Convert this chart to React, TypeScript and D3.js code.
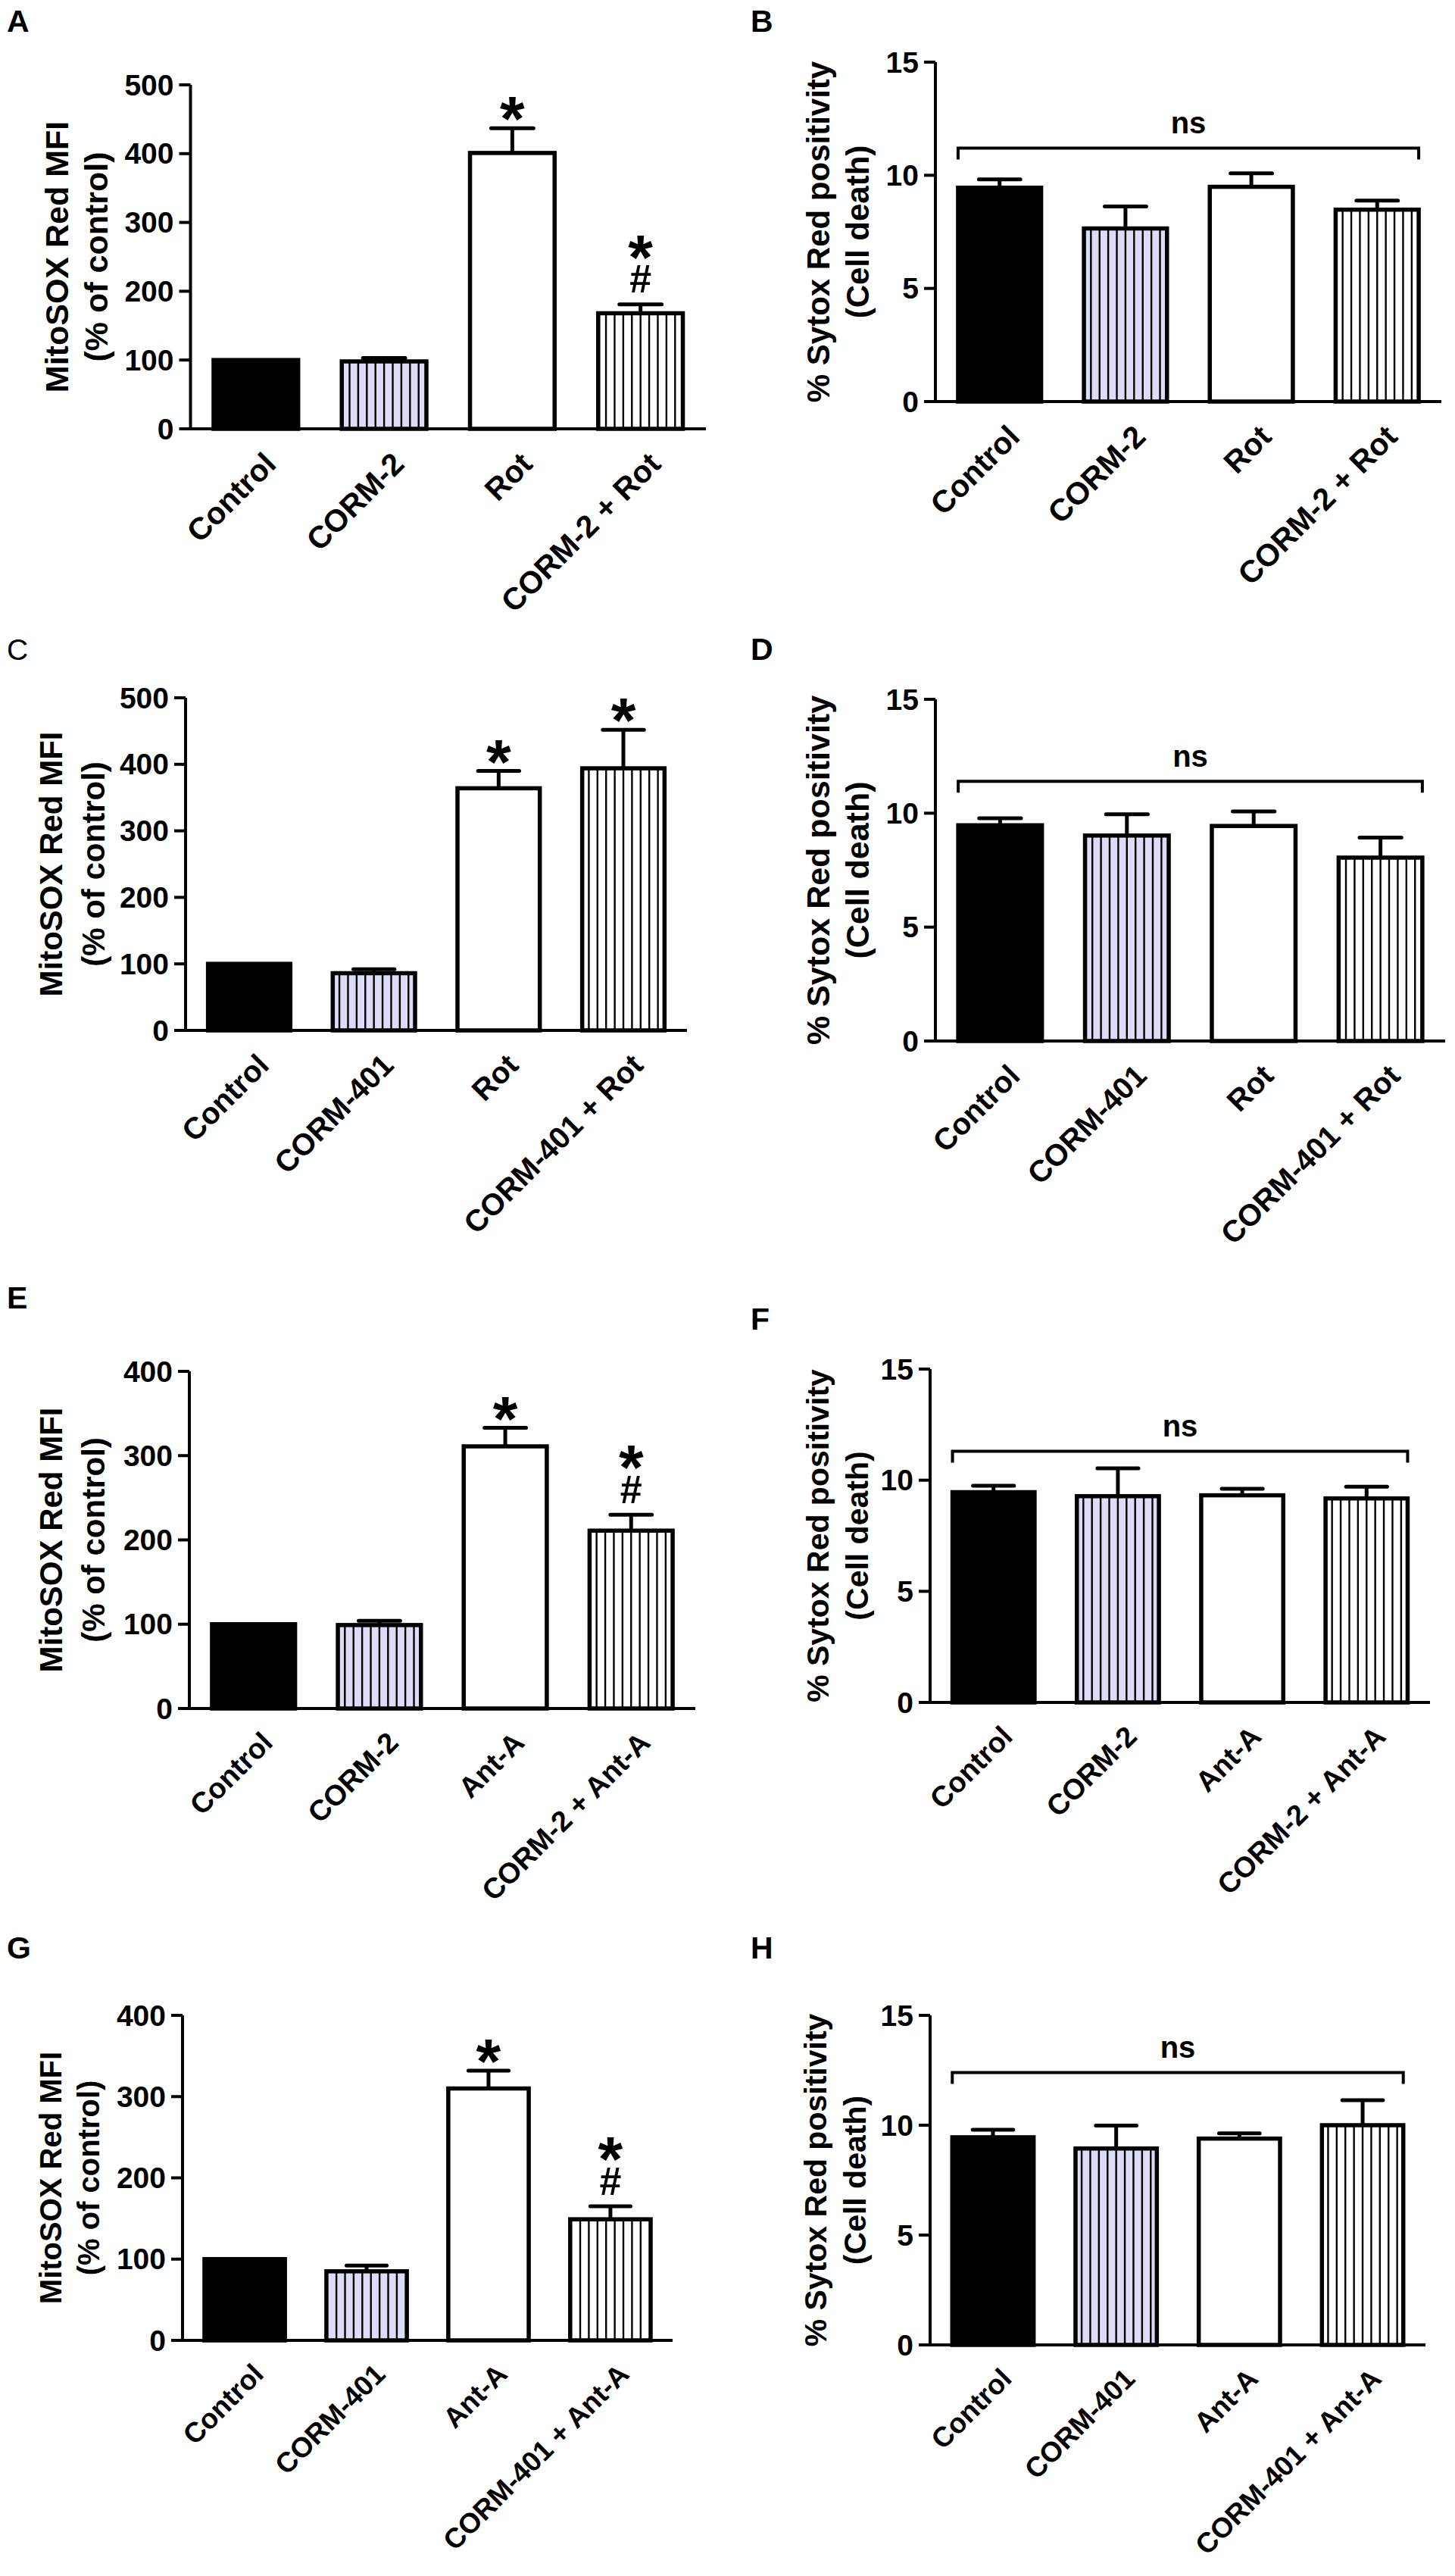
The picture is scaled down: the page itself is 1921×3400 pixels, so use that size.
import React from "react";
import * as d3 from "d3";

// ---------- data ----------
const catsRot2 = ["Control", "CORM-2", "Rot", "CORM-2 + Rot"];
const catsRot401 = ["Control", "CORM-401", "Rot", "CORM-401 + Rot"];
const catsAnt2 = ["Control", "CORM-2", "Ant-A", "CORM-2 + Ant-A"];
const catsAnt401 = ["Control", "CORM-401", "Ant-A", "CORM-401 + Ant-A"];

const ticksMito500 = [0, 100, 200, 300, 400, 500];
const ticksMito400 = [0, 100, 200, 300, 400];
const ticksSytox = [0, 5, 10, 15];

const mitoTitle = ["MitoSOX Red MFI", "(% of control)"];
const sytoxTitle = ["% Sytox Red positivity", "(Cell death)"];

// Panel A
const meanA = [100, 98, 401, 168];
const semA = [0, 5, 36, 13];
const sigA = ["", "", "*", "*#"];
// Panel B
const meanB = [9.45, 7.65, 9.49, 8.48];
const semB = [0.37, 0.97, 0.6, 0.4];
const nsB = 11.2;
// Panel C
const meanC = [100, 86, 364, 394];
const semC = [0, 6, 26, 58];
const sigC = ["", "", "*", "*"];
// Panel D
const meanD = [9.47, 9.02, 9.44, 8.05];
const semD = [0.31, 0.93, 0.64, 0.88];
const nsD = 11.4;
// Panel E
const meanE = [100, 99, 311, 211];
const semE = [0, 5, 22, 19];
const sigE = ["", "", "*", "*#"];
// Panel F
const meanF = [9.46, 9.28, 9.32, 9.18];
const semF = [0.29, 1.25, 0.29, 0.53];
const nsF = 11.3;
// Panel G
const meanG = [100, 85, 310, 149];
const semG = [0, 7, 22, 16];
const sigG = ["", "", "*", "*#"];
// Panel H
const meanH = [9.45, 8.94, 9.39, 10.0];
const semH = [0.34, 1.04, 0.24, 1.14];
const nsH = 12.4;

// ---------- styles ----------
const FONT = "'Liberation Sans', Arial, Helvetica, sans-serif";
const barFills = ["#000000", "#dcdcf6", "#ffffff", "#ffffff"];
const barStriped = [false, true, false, true];
const STROKE = 5.5;
const AXIS_W = 4;

type Layout = {
  letter: string; lx: number; ly: number; lbold: boolean;
  axisX: number; xEnd: number; yTop: number; y0: number;
  lab1: number; lab2: number; titleSize: number; xlabSize: number;
};

type PanelProps = {
  layout: Layout;
  cats: string[];
  mean: number[];
  sem: number[];
  ticks: number[];
  title: string[];
  sig?: string[];
  ns?: number;
};

function Panel({ layout, cats, mean, sem, ticks, title, sig, ns }: PanelProps) {
  const L = layout;
  const yMax = ticks[ticks.length - 1];
  const y = d3.scaleLinear().domain([0, yMax]).range([L.y0, L.yTop]);
  const x = d3.scaleBand<string>().domain(cats).range([L.axisX, L.xEnd]).paddingInner(0.34).paddingOuter(0.18);
  const bw = x.bandwidth();
  const yMid = (L.y0 + L.yTop) / 2;
  const capW = bw * 0.5;
  const stripeGap = 11.4;
  const STAR = 84;
  const HASH = 52;

  return (
    <g>
      <text x={L.lx} y={L.ly} fontFamily={FONT} fontWeight={L.lbold ? 700 : 400} fontSize={L.lbold ? 41 : 39}>{L.letter}</text>

      {/* y title */}
      <text transform={`translate(${L.axisX - L.lab1},${yMid}) rotate(-90)`} textAnchor="middle" dominantBaseline="central"
        fontFamily={FONT} fontWeight={700} fontSize={L.titleSize}>{title[0]}</text>
      <text transform={`translate(${L.axisX - L.lab2},${yMid}) rotate(-90)`} textAnchor="middle" dominantBaseline="central"
        fontFamily={FONT} fontWeight={700} fontSize={L.titleSize}>{title[1]}</text>

      {/* bars */}
      {cats.map((c, i) => {
        const bx = x(c)!;
        const by = y(mean[i]);
        const bh = L.y0 - by;
        const nStripes = Math.floor((bw - 4) / stripeGap);
        const startX = bx + (bw - (nStripes - 1) * stripeGap) / 2;
        return (
          <g key={c}>
            <rect x={bx} y={by} width={bw} height={bh} fill={barFills[i]} />
            {barStriped[i] && d3.range(nStripes).map((k) => (
              <line key={k} x1={startX + k * stripeGap} x2={startX + k * stripeGap} y1={by} y2={L.y0}
                stroke="#000" strokeWidth={2.4} />
            ))}
            <rect x={bx} y={by} width={bw} height={bh} fill="none" stroke="#000" strokeWidth={STROKE} />
            {sem[i] > 0 && (
              <g stroke="#000" strokeWidth={5} strokeLinecap="round">
                <line x1={bx + bw / 2} x2={bx + bw / 2} y1={by} y2={y(mean[i] + sem[i])} strokeLinecap="butt" />
                <line x1={bx + bw / 2 - capW / 2} x2={bx + bw / 2 + capW / 2} y1={y(mean[i] + sem[i])} y2={y(mean[i] + sem[i])} />
              </g>
            )}
            {sig && sig[i] && (() => {
              const top = y(mean[i] + sem[i]);
              const cx = bx + bw / 2;
              const hasHash = sig[i].includes("#");
              const hashCenter = top - 34;
              const starCenter = hasHash ? hashCenter - 46 : top - 30;
              return (
                <text fontFamily={FONT} fontWeight={700} textAnchor="middle">
                  <tspan x={cx} y={starCenter + 0.56 * STAR} fontSize={STAR}>*</tspan>
                  {hasHash && <tspan x={cx} y={hashCenter + 0.36 * HASH} fontSize={HASH}>#</tspan>}
                </text>
              );
            })()}
          </g>
        );
      })}

      {/* axes */}
      <line x1={L.axisX} x2={L.axisX} y1={L.yTop} y2={L.y0} stroke="#000" strokeWidth={AXIS_W} />
      <line x1={L.axisX - 14} x2={L.xEnd} y1={L.y0} y2={L.y0} stroke="#000" strokeWidth={AXIS_W} />
      {ticks.map((t) => (
        <g key={t}>
          <line x1={L.axisX - 15} x2={L.axisX} y1={y(t)} y2={y(t)} stroke="#000" strokeWidth={AXIS_W} />
          <text x={L.axisX - 22} y={y(t)} textAnchor="end" dominantBaseline="central" fontFamily={FONT}
            fontWeight={700} fontSize={39}>{t}</text>
        </g>
      ))}

      {/* x labels */}
      {cats.map((c) => (
        <text key={c} transform={`translate(${x(c)! + bw / 2 + 8},${L.y0 + 28}) rotate(-45)`} textAnchor="end" dy="0.72em"
          fontFamily={FONT} fontWeight={700} fontSize={L.xlabSize}>{c}</text>
      ))}

      {/* ns bracket */}
      {ns !== undefined && (() => {
        const yb = y(ns);
        const xl = x(cats[0])!;
        const xr = x(cats[cats.length - 1])! + bw;
        return (
          <g>
            <path d={`M${xl},${yb + 15}V${yb}H${xr}V${yb + 15}`} fill="none" stroke="#000" strokeWidth={4} />
            <text x={(xl + xr) / 2} y={yb - 30 + 10.5} textAnchor="middle" fontFamily={FONT} fontWeight={700} fontSize={40}>ns</text>
          </g>
        );
      })()}
    </g>
  );
}

const layouts: Record<string, Layout> = {
  A: { letter: "A", lx: 9, ly: 42, lbold: true, axisX: 251.5, xEnd: 932, yTop: 112, y0: 566, lab1: 177, lab2: 125, titleSize: 43, xlabSize: 41 },
  B: { letter: "B", lx: 991, ly: 42, lbold: true, axisX: 1235, xEnd: 1903, yTop: 82, y0: 530, lab1: 155, lab2: 103, titleSize: 42, xlabSize: 41 },
  C: { letter: "C", lx: 9, ly: 871, lbold: false, axisX: 245, xEnd: 907, yTop: 921, y0: 1360, lab1: 178, lab2: 122, titleSize: 42, xlabSize: 40 },
  D: { letter: "D", lx: 991, ly: 871, lbold: true, axisX: 1235, xEnd: 1908, yTop: 923, y0: 1374, lab1: 155, lab2: 103, titleSize: 43, xlabSize: 40 },
  E: { letter: "E", lx: 9, ly: 1727, lbold: true, axisX: 250, xEnd: 918, yTop: 1810, y0: 2255, lab1: 183, lab2: 127, titleSize: 42, xlabSize: 38 },
  F: { letter: "F", lx: 991, ly: 1755, lbold: true, axisX: 1228, xEnd: 1888, yTop: 1807, y0: 2247, lab1: 148, lab2: 96, titleSize: 41, xlabSize: 38 },
  G: { letter: "G", lx: 9, ly: 2585, lbold: true, axisX: 241, xEnd: 888, yTop: 2660, y0: 3089, lab1: 174, lab2: 124, titleSize: 40, xlabSize: 37 },
  H: { letter: "H", lx: 991, ly: 2585, lbold: true, axisX: 1228, xEnd: 1882, yTop: 2660, y0: 3095, lab1: 151, lab2: 99, titleSize: 41, xlabSize: 37 },
};

export default function App() {
  return (
    <svg width={1921} height={3400} viewBox="0 0 1921 3400"
      style={{ position: "absolute", left: 0, top: 0, display: "block", background: "#fff" }}>
      <rect width={1921} height={3400} fill="#fff" />
      <Panel layout={layouts.A} cats={catsRot2} mean={meanA} sem={semA} ticks={ticksMito500} title={mitoTitle} sig={sigA} />
      <Panel layout={layouts.B} cats={catsRot2} mean={meanB} sem={semB} ticks={ticksSytox} title={sytoxTitle} ns={nsB} />
      <Panel layout={layouts.C} cats={catsRot401} mean={meanC} sem={semC} ticks={ticksMito500} title={mitoTitle} sig={sigC} />
      <Panel layout={layouts.D} cats={catsRot401} mean={meanD} sem={semD} ticks={ticksSytox} title={sytoxTitle} ns={nsD} />
      <Panel layout={layouts.E} cats={catsAnt2} mean={meanE} sem={semE} ticks={ticksMito400} title={mitoTitle} sig={sigE} />
      <Panel layout={layouts.F} cats={catsAnt2} mean={meanF} sem={semF} ticks={ticksSytox} title={sytoxTitle} ns={nsF} />
      <Panel layout={layouts.G} cats={catsAnt401} mean={meanG} sem={semG} ticks={ticksMito400} title={mitoTitle} sig={sigG} />
      <Panel layout={layouts.H} cats={catsAnt401} mean={meanH} sem={semH} ticks={ticksSytox} title={sytoxTitle} ns={nsH} />
    </svg>
  );
}
